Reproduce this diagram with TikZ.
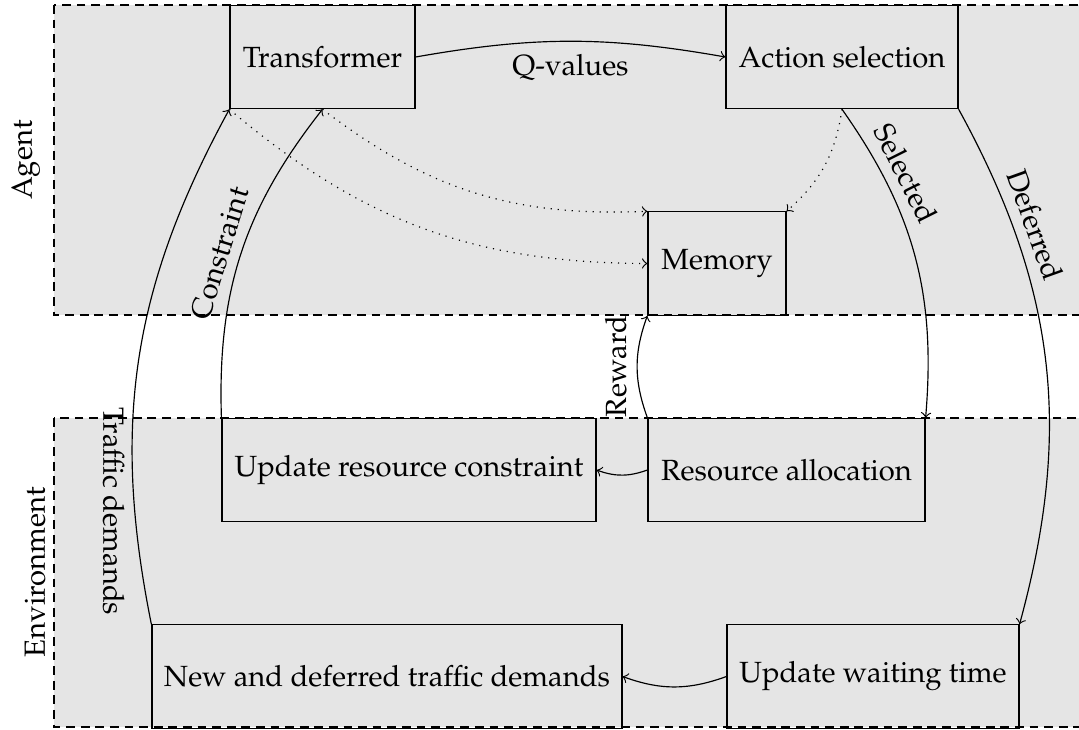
\documentclass[tikz,border=0pt]{standalone}
\usepackage[T1]{fontenc}
\usepackage{mathpazo}
\begin{document}
\begin{tikzpicture}[x=0.3425pt,y=0.3425pt,
  box/.style={draw, minimum height=35.4pt, inner sep=0pt, align=center},
  region/.style={fill=gray!20, draw, dash pattern=on 3pt off 2pt},
  flow/.style={->},
  memflow/.style={->, dotted}]
\useasboundingbox (0,0) rectangle (1079,-730);
\clip (0,0) rectangle (1079,-730);
% regions
\path[region] (54,-5) rectangle (1110,-315);
\path[region] (54,-418) rectangle (1110,-727);
\node[rotate=90, anchor=base] (agentlbl) at (32,-160) {Agent};
\node[rotate=90, anchor=base] (envlbl) at (45,-572) {Environment};
% nodes
\node[box, minimum width=63.4pt] (tr) at (322.5,-57) {Transformer};
\node[box, minimum width=79.5pt] (as) at (842,-57) {Action selection};
\node[box, minimum width=47.3pt] (mem) at (717,-263.5) {Memory};
\node[box, minimum width=128.1pt] (urc) at (409,-470) {Update resource constraint};
\node[box, minimum width=94.9pt] (ra) at (786.5,-470) {Resource allocation};
\node[box, minimum width=161pt] (ndt) at (387,-676.5) {New and deferred traffic demands};
\node[box, minimum width=100pt] (uwt) at (873,-676.5) {Update waiting time};
% connectors
\draw[flow] (tr.east) to[bend left=10] node[below, yshift=-1pt] {Q-values} (as.west);
\draw[memflow] (tr.south) to[bend right=20] (mem.north west);
\draw[memflow] (tr.south west) to[bend right=20] (mem.west);
\draw[memflow] (as.south) to[bend left=20] (mem.north east);
\draw[flow] (as.south) to[bend left=20] node[sloped, above, pos=0.25] {Selected} (ra.north east);
\draw[flow] (as.south east) to[bend left=22] node[sloped, above, pos=0.24] {Deferred} (uwt.north east);
\draw[flow] (ra.north west) to[bend left=20] node[rotate=90, anchor=south] {Reward} (mem.south west);
\draw[flow] (ra.west) to[bend left=20] (urc.east);
\draw[flow] (uwt.west) to[bend left=20] (ndt.east);
\draw[flow] (urc.north west) to[bend left=20] node[sloped, above, pos=0.48] {Constraint} (tr.south);
\draw[<-] (tr.south west) to[bend right=20] node[rotate=-90, anchor=north, pos=0.8] {Traffic demands} (ndt.north west);
\end{tikzpicture}
\end{document}
